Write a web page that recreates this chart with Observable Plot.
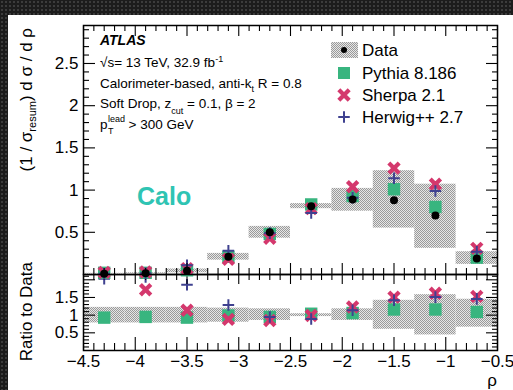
<!DOCTYPE html>
<html><head><meta charset="utf-8">
<script src="https://cdn.jsdelivr.net/npm/d3@7"></script>
<script src="https://cdn.jsdelivr.net/npm/@observablehq/plot@0.6"></script>
<style>
html,body{margin:0;padding:0;}
body{width:513px;height:390px;overflow:hidden;position:relative;background:#1c1c1c;
 background-image:radial-gradient(#3c3c3c 1px, transparent 1.3px);background-size:4px 4px;
 font-family:"Liberation Sans",Arial,sans-serif;}
#sheet{position:absolute;left:8px;top:15px;right:0;bottom:0;background:#fff;}
.plot{position:absolute;left:0;}
#ov{position:absolute;left:0;top:0;pointer-events:none;}
</style></head>
<body>
<div id="sheet"></div>
<div id="charts"></div>
<svg id="ov" width="513" height="390" font-family="Liberation Sans, Arial, sans-serif">
 <defs>
  <pattern id="hatch" width="2" height="2" patternUnits="userSpaceOnUse">
   <rect width="2" height="2" fill="#e6e6e6"></rect>
   <rect width="1" height="1" fill="#9a9a9a"></rect>
   <rect x="1" y="1" width="1" height="1" fill="#9a9a9a"></rect>
  </pattern>
 </defs>
</svg>
<script>
// ---------- data ----------
const binCenters = [-4.3, -3.9, -3.5, -3.1, -2.7, -2.3, -1.9, -1.5, -1.1, -0.7];
const binHalfWidth = 0.2;
const dataVal   = [0.010, 0.015, 0.045, 0.21, 0.50, 0.81, 0.89, 0.88, 0.70, 0.19];
const dataLo    = [0.006, 0.010, 0.020, 0.17, 0.43, 0.78, 0.75, 0.55, 0.31, 0.12];
const dataHi    = [0.014, 0.020, 0.065, 0.25, 0.57, 0.84, 1.02, 1.23, 1.07, 0.27];
const pythia    = [0.020, 0.020, 0.050, 0.21, 0.48, 0.83, 0.93, 1.01, 0.80, 0.20];
const sherpa    = [0.025, 0.030, 0.070, 0.18, 0.43, 0.78, 1.04, 1.26, 1.07, 0.31];
const herwig    = [0.010, 0.015, 0.110, 0.28, 0.49, 0.73, 0.91, 1.14, 0.99, 0.27];
const ratioLo   = [0.78, 0.78, 0.78, 0.80, 0.85, 0.96, 0.85, 0.60, 0.44, 0.66];
const ratioHi   = [1.22, 1.22, 1.22, 1.20, 1.18, 1.04, 1.18, 1.42, 1.58, 1.45];
const pythiaRatio = [0.93, 0.95, 0.93, 0.99, 0.95, 1.04, 1.06, 1.16, 1.16, 1.09];
const sherpaRatio = [2.40, 1.72, 1.14, 0.88, 0.85, 0.99, 1.23, 1.51, 1.62, 1.53];
const herwigRatio = [2.03, 2.08, 1.86, 1.29, 0.95, 0.89, 1.14, 1.42, 1.51, 1.46];
const xMajorTicks = [-4.5, -4, -3.5, -3, -2.5, -2, -1.5, -1, -0.5];
const yMainTicks  = [0.5, 1, 1.5, 2, 2.5];
const yRatioTicks = [0.5, 1, 1.5, 2];
const yRatioLabels = [0.5, 1, 1.5];
const legendLabels = ["Data", "Pythia 8.186", "Sherpa 2.1", "Herwig++ 2.7"];

// ---------- style ----------
const C_PY = "#38b57f", C_SH = "#d4386d", C_HW = "#3f4190";
const FONT = "Liberation Sans, Arial, sans-serif";
const fmt = d => (d < 0 ? "\u2212" : "") + Math.abs(d);
const rnd = v => Math.round(v * 1000) / 1000;
const xMinor = d3.range(-45, -4, 1).map(v => rnd(v / 10)).filter(v => !xMajorTicks.includes(v));
const yMainMinor = d3.range(1, 30, 1).map(v => rnd(v / 10)).filter(v => !yMainTicks.includes(v));
const yRatioMinor = d3.range(1, 22, 1).map(v => rnd(v / 10)).filter(v => !yRatioTicks.includes(v));

const rows = binCenters.map((x, i) => ({
  x, x1: x - binHalfWidth, x2: x + binHalfWidth,
  data: dataVal[i], lo: dataLo[i], hi: dataHi[i],
  pythia: pythia[i], sherpa: sherpa[i], herwig: herwig[i],
  rlo: ratioLo[i], rhi: ratioHi[i],
  rpy: pythiaRatio[i], rsh: sherpaRatio[i], rhw: herwigRatio[i]
}));

function tickMarks(fn, anchor, ticks, size) {
  return fn({anchor, ticks, tickSize: -size, fill: "none", label: null, strokeWidth: 1.1});
}

const SQ_R = 7, X_R = 4.8, X_W = 4.2, P_R = 3.8, P_W = 2;

const mainPlot = Plot.plot({
  width: 513, height: 290,
  marginLeft: 83, marginRight: 16, marginTop: 25, marginBottom: 16,
  x: {domain: [-4.5, -0.5]},
  y: {domain: [0, 2.95]},
  style: {background: "transparent", overflow: "visible", fontFamily: FONT, fontSize: "17px", color: "black"},
  marks: [
    Plot.rect(rows, {x1: "x1", x2: "x2", y1: "lo", y2: "hi", fill: "url(#hatch)"}),
    Plot.dot(rows, {x: "x", y: "pythia", symbol: "square", r: SQ_R, fill: C_PY}),
    Plot.dot(rows, {x: "x", y: "sherpa", symbol: "times", r: X_R, stroke: C_SH, strokeWidth: X_W}),
    Plot.dot(rows, {x: "x", y: "herwig", symbol: "plus", r: P_R, stroke: C_HW, strokeWidth: P_W}),
    Plot.dot(rows, {x: "x", y: "data", r: 4, fill: "black"}),
    tickMarks(Plot.axisY, "left", yMainTicks, 12),
    tickMarks(Plot.axisY, "left", yMainMinor, 6),
    tickMarks(Plot.axisY, "right", yMainTicks, 12),
    tickMarks(Plot.axisY, "right", yMainMinor, 6),
    tickMarks(Plot.axisX, "bottom", xMajorTicks, 11),
    tickMarks(Plot.axisX, "bottom", xMinor, 6),
    tickMarks(Plot.axisX, "top", xMajorTicks, 10),
    tickMarks(Plot.axisX, "top", xMinor, 5),
    Plot.axisY({anchor: "left", ticks: yMainTicks, tickSize: 0, tickPadding: 5, label: null, tickFormat: fmt}),
    Plot.frame({strokeWidth: 1.5})
  ]
});

const ratioPlot = Plot.plot({
  width: 513, height: 120,
  marginLeft: 83, marginRight: 16, marginTop: 4, marginBottom: 40,
  x: {domain: [-4.5, -0.5]},
  y: {domain: [0, 2.15]},
  style: {background: "transparent", overflow: "visible", fontFamily: FONT, fontSize: "17px", color: "black"},
  marks: [
    Plot.rect(rows, {x1: "x1", x2: "x2", y1: "rlo", y2: "rhi", fill: "url(#hatch)"}),
    Plot.dot(rows, {x: "x", y: "rpy", symbol: "square", r: SQ_R, fill: C_PY, clip: true}),
    Plot.dot(rows, {x: "x", y: "rsh", symbol: "times", r: X_R, stroke: C_SH, strokeWidth: X_W, clip: true}),
    Plot.dot(rows, {x: "x", y: "rhw", symbol: "plus", r: P_R, stroke: C_HW, strokeWidth: P_W, clip: true}),
    tickMarks(Plot.axisY, "left", yRatioTicks, 12),
    tickMarks(Plot.axisY, "left", yRatioMinor, 6),
    tickMarks(Plot.axisY, "right", yRatioTicks, 12),
    tickMarks(Plot.axisY, "right", yRatioMinor, 6),
    tickMarks(Plot.axisX, "bottom", xMajorTicks, 13),
    tickMarks(Plot.axisX, "bottom", xMinor, 7),
    tickMarks(Plot.axisX, "top", xMajorTicks, 9),
    tickMarks(Plot.axisX, "top", xMinor, 5),
    Plot.axisY({anchor: "left", ticks: yRatioLabels, tickSize: 0, tickPadding: 5, label: null, tickFormat: fmt}),
    Plot.axisX({anchor: "bottom", ticks: xMajorTicks, tickSize: 0, tickPadding: 4, label: null, tickFormat: fmt}),
    Plot.frame({strokeWidth: 1.5})
  ]
});

const charts = document.getElementById("charts");
ratioPlot.classList.add("plot"); ratioPlot.style.top = "270px";
mainPlot.classList.add("plot"); mainPlot.style.top = "0px";
charts.appendChild(ratioPlot);
charts.appendChild(mainPlot);

// ---------- overlay texts & legend ----------
const ov = d3.select("#ov");
const g = ov.append("g").attr("fill", "black");

// y axis titles
const t1 = g.append("text").attr("transform", "translate(32,28) rotate(-90)")
  .attr("text-anchor", "end").attr("font-size", 17);
t1.append("tspan").text("(1 / \u03c3");
t1.append("tspan").attr("font-size", 11).attr("dy", 4).text("resum");
t1.append("tspan").attr("dy", -4).text(") d \u03c3 / d \u03c1");

g.append("text").attr("transform", "translate(32,262) rotate(-90)")
  .attr("text-anchor", "end").attr("font-size", 17).text("Ratio to Data");

// x title
g.append("text").attr("x", 497).attr("y", 386).attr("text-anchor", "end")
  .attr("font-size", 17).text("\u03c1");

// ATLAS block
g.append("text").attr("x", 100).attr("y", 45).attr("font-size", 14)
  .attr("font-weight", "bold").attr("font-style", "italic").text("ATLAS");
const l2 = g.append("text").attr("x", 100).attr("y", 67).attr("font-size", 13.5);
l2.append("tspan").text("\u221as= 13 TeV, 32.9 fb");
l2.append("tspan").attr("font-size", 9).attr("dy", -5).text("-1");
const l3 = g.append("text").attr("x", 100).attr("y", 88).attr("font-size", 13.5);
l3.append("tspan").text("Calorimeter-based, anti-k");
l3.append("tspan").attr("font-size", 9).attr("dy", 4).text("t");
l3.append("tspan").attr("dy", -4).text("\u00a0R = 0.8");
const l4 = g.append("text").attr("x", 100).attr("y", 108).attr("font-size", 13.5);
l4.append("tspan").text("Soft Drop, z");
l4.append("tspan").attr("font-size", 9).attr("dy", 6).text("cut");
l4.append("tspan").attr("dy", -6).text("\u00a0= 0.1, \u03b2 = 2");
const p = g.append("text").attr("x", 100).attr("y", 129).attr("font-size", 13.5).text("p");
const pw = p.node().getComputedTextLength();
const sup = g.append("text").attr("x", 100 + pw + 0.5).attr("y", 122).attr("font-size", 9).text("lead");
g.append("text").attr("x", 100 + pw + 0.5).attr("y", 134).attr("font-size", 9).text("T");
const sw = sup.node().getComputedTextLength();
g.append("text").attr("x", 100 + pw + sw + 4).attr("y", 129).attr("font-size", 13.5).text("> 300 GeV");

// legend
const ly = [50, 73, 95, 117];
g.append("rect").attr("x", 331).attr("y", 42).attr("width", 27).attr("height", 16).attr("fill", "url(#hatch)");
g.append("circle").attr("cx", 344).attr("cy", ly[0]).attr("r", 3).attr("fill", "black");
g.append("path").attr("d", d3.symbol(d3.symbolSquare, 144)()).attr("transform", `translate(344,${ly[1]})`).attr("fill", C_PY);
g.append("path").attr("d", d3.symbol(d3.symbolTimes, Math.PI * X_R * X_R)()).attr("transform", `translate(344,${ly[2]})`)
  .attr("fill", "none").attr("stroke", C_SH).attr("stroke-width", X_W);
g.append("path").attr("d", d3.symbol(d3.symbolPlus, Math.PI * P_R * P_R)()).attr("transform", `translate(344,${ly[3]})`)
  .attr("fill", "none").attr("stroke", C_HW).attr("stroke-width", P_W);
legendLabels.forEach((s, i) => {
  g.append("text").attr("x", 362).attr("y", ly[i] + 6).attr("font-size", 17).text(s);
});

// Calo tag
g.append("text").attr("x", 137).attr("y", 205).attr("font-size", 25).attr("font-weight", "bold")
  .attr("fill", "#2fc4b3").text("Calo");
</script>
</body></html>
